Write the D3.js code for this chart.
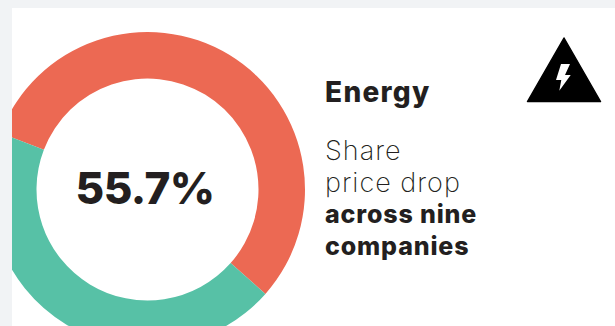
<!DOCTYPE html>
<html>
<head>
<meta charset="utf-8">
<script src="https://cdn.jsdelivr.net/npm/d3@7"></script>
<style>
html,body{margin:0;padding:0;background:#f1f3f5;overflow:hidden}
text{font-family:Inter,"Noto Sans",sans-serif;fill:#231f20}
</style>
</head>
<body>
<svg id="chart" width="615" height="326"></svg>
<script>
// Share price drop across the energy companies
const segments = ["drop", "remainder"];
const shares = [55.7, 44.3];
const segmentColors = ["#ec6953", "#57c1a6"];
const centreLabel = "55.7%";
const heading = "Energy";
const lightLines = ["Share", "price drop"];
const boldLines = ["across nine", "companies"];

const svg = d3.select("#chart");

svg.append("rect").attr("x", 12).attr("y", 8).attr("width", 603).attr("height", 318).attr("fill", "#fff");
svg.append("defs").append("clipPath").attr("id", "panel")
  .append("rect").attr("x", 12).attr("y", 8).attr("width", 603).attr("height", 318);

const cx = 147.5, cy = 189.5;
const startAngle = -69 * Math.PI / 180;
const pie = d3.pie().sort(null).startAngle(startAngle).endAngle(startAngle + 2 * Math.PI);
const arc = d3.arc().innerRadius(111).outerRadius(157.5);

svg.append("g").attr("clip-path", "url(#panel)")
  .append("g").attr("transform", `translate(${cx},${cy})`)
  .selectAll("path").data(pie(shares)).join("path")
  .attr("d", arc)
  .attr("fill", (d, i) => segmentColors[i])
  .attr("data-segment", (d, i) => segments[i]);

svg.append("text").attr("x", 145).attr("y", 204).attr("text-anchor", "middle")
  .attr("font-size", 44).attr("font-weight", 800).attr("letter-spacing", -0.6).text(centreLabel);

svg.append("text").attr("x", 325).attr("y", 102)
  .attr("font-size", 28).attr("font-weight", 800).attr("letter-spacing", 1.3).text(heading);

const lineY = d3.scaleLinear().domain([0, 3]).range([160, 255]);
svg.selectAll("text.light").data(lightLines).join("text").attr("class", "light")
  .attr("x", 325).attr("y", (d, i) => lineY(i))
  .attr("font-size", 27).attr("font-weight", 200).attr("letter-spacing", 1).text(d => d);
svg.selectAll("text.strong").data(boldLines).join("text").attr("class", "strong")
  .attr("x", 325).attr("y", (d, i) => lineY(i + 2))
  .attr("font-size", 25).attr("font-weight", 800).attr("letter-spacing", 0.85).text(d => d);

// Warning triangle with lightning bolt
const icon = svg.append("g");
icon.append("path").attr("d", "M564 38 L600.5 101.5 L527.5 101.5 Z")
  .attr("fill", "#000").attr("stroke", "#000").attr("stroke-width", 1.5).attr("stroke-linejoin", "round");
icon.append("path").attr("d", "M561 64 L570 64 L565 75 L570.7 75 L559.3 90.7 L561.3 80 L556 80 Z")
  .attr("fill", "#fff");
</script>
</body>
</html>
